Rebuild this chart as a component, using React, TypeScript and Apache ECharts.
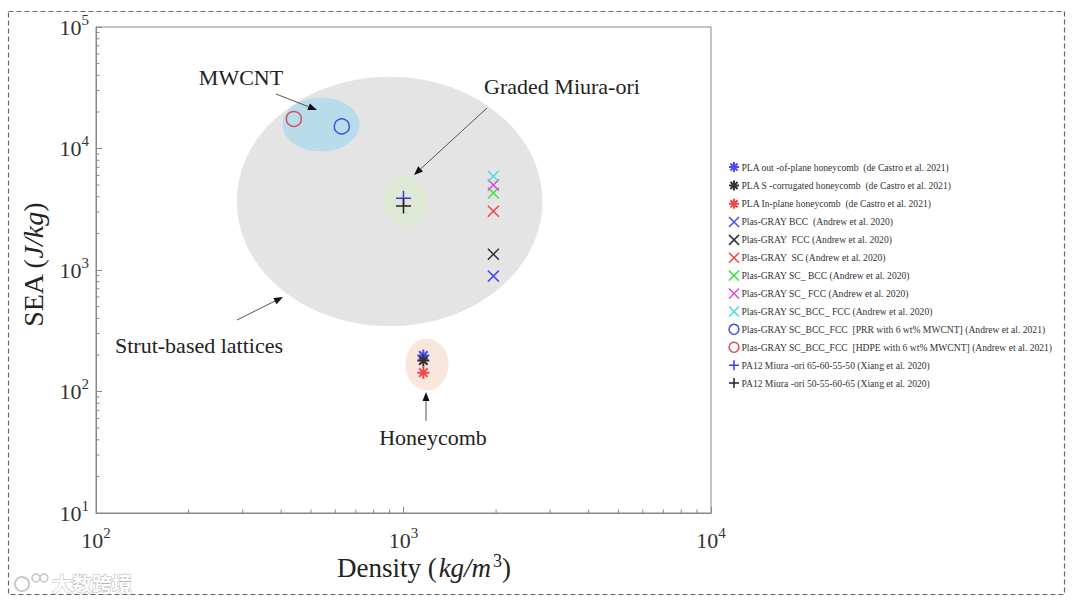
import React, { useEffect, useRef } from 'react';
import * as echarts from 'echarts';

// ---- data ----
const seriesNames = [
  'PLA out -of-plane honeycomb  (de Castro et al. 2021)',
  'PLA S -corrugated honeycomb  (de Castro et al. 2021)',
  'PLA In-plane honeycomb  (de Castro et al. 2021)',
  'Plas-GRAY BCC  (Andrew et al. 2020)',
  'Plas-GRAY  FCC (Andrew et al. 2020)',
  'Plas-GRAY  SC (Andrew et al. 2020)',
  'Plas-GRAY SC_ BCC (Andrew et al. 2020)',
  'Plas-GRAY SC_ FCC (Andrew et al. 2020)',
  'Plas-GRAY SC_BCC_ FCC (Andrew et al. 2020)',
  'Plas-GRAY SC_BCC_FCC  [PRR with 6 wt% MWCNT] (Andrew et al. 2021)',
  'Plas-GRAY SC_BCC_FCC  [HDPE with 6 wt% MWCNT] (Andrew et al. 2021)',
  'PA12 Miura -ori 65-60-55-50 (Xiang et al. 2020)',
  'PA12 Miura -ori 50-55-60-65 (Xiang et al. 2020)',
];
const seriesShapes = ['asterisk', 'asterisk', 'asterisk', 'cross', 'cross', 'cross', 'cross', 'cross', 'cross', 'circle', 'circle', 'plus', 'plus'];
const seriesColors = ['#4b4bf2', '#333333', '#f24545', '#4b4bf2', '#333333', '#f24545', '#45e045', '#e045e0', '#45e0e0', '#3f4ff0', '#d8505a', '#3a3af0', '#222222'];
const densities = [1160, 1160, 1160, 1960, 1960, 1960, 1960, 1960, 1960, 630, 440, 1000, 1000];
const seaValues = [198, 180, 143, 890, 1350, 3050, 4300, 5000, 5900, 15200, 17500, 3900, 3370];

const regionNames = ['Strut-based lattices', 'MWCNT', 'Graded Miura-ori', 'Honeycomb'];
const regionDensity = [[287, 2830], [404, 720], [861, 1188], [1015, 1400]];
const regionSEA = [[345, 39000], [9450, 26300], [2260, 6050], [102, 273]];
const regionColors = ['#e4e4e4', '#b9dcea', '#dfe8d5', '#f9e7dd'];

const xMin = 100, xMax = 10000, yMin = 10, yMax = 100000;

const SYMBOLS: Record<string, string> = {
  asterisk: 'path://M5,0L5,10M0,5L10,5M1.46,1.46L8.54,8.54M8.54,1.46L1.46,8.54',
  cross: 'path://M0,0L10,10M10,0L0,10',
  plus: 'path://M5,0L5,10M0,5L10,5',
  circle: 'circle',
};
const SIZES: Record<string, number> = { asterisk: 12, cross: 11, plus: 15, circle: 15 };

const SERIF = "'Liberation Serif', 'DejaVu Serif', serif";

function minorTicks(lo: number, hi: number): number[] {
  const out: number[] = [];
  for (let d = lo; d < hi; d *= 10) for (let k = 2; k <= 9; k++) out.push(d * k);
  return out;
}

function arrow(x1: number, y1: number, x2: number, y2: number) {
  const a = Math.atan2(y2 - y1, x2 - x1);
  const L = 9, W = 3.5;
  const c = Math.cos(a), s = Math.sin(a);
  const bx = x2 - L * c, by = y2 - L * s;
  return [
    { type: 'line', shape: { x1, y1, x2: bx, y2: by }, style: { stroke: '#555', lineWidth: 1 }, z: 100 },
    { type: 'polygon', shape: { points: [[x2, y2], [bx + W * s, by - W * c], [bx - W * s, by + W * c]] }, style: { fill: '#111' }, z: 100 },
  ];
}

const supLabel = (v: number) => `{b|10}{s|${Math.round(Math.log10(v))}}`;
const supRich = {
  b: { fontSize: 22, fontFamily: SERIF, color: '#333' },
  s: { fontSize: 15, fontFamily: SERIF, color: '#333', padding: [0, 0, 15, 0] },
};

export default function App() {
  const ref = useRef<HTMLDivElement>(null);
  useEffect(() => {
    if (!ref.current) return;
    const chart = echarts.init(ref.current, undefined, { renderer: 'svg' });

    const tickData: number[][] = [];
    minorTicks(xMin, xMax).forEach((v) => tickData.push([v, yMin, 0]));
    minorTicks(yMin, yMax).forEach((v) => tickData.push([xMin, v, 1]));

    const scatterSeries = seriesNames.map((name, i) => {
      const shape = seriesShapes[i];
      const col = seriesColors[i];
      return {
        name,
        type: 'scatter',
        data: [[densities[i], seaValues[i]]],
        symbol: SYMBOLS[shape],
        symbolSize: SIZES[shape],
        itemStyle: {
          color: shape === 'circle' ? 'rgba(0,0,0,0)' : col,
          borderColor: col,
          borderWidth: shape === 'asterisk' ? 2 : 1.5,
          opacity: 1,
        },
        emphasis: { disabled: true },
        z: 5,
      };
    });

    const labelFont = `22px ${SERIF}`;
    const graphic: any[] = [
      { type: 'rect', shape: { x: 8.5, y: 11.5, width: 1056, height: 583 }, style: { fill: 'none', stroke: '#666', lineWidth: 1.2, lineDash: [5, 3] }, silent: true },
      { type: 'text', x: 241, y: 77, style: { text: 'MWCNT', font: labelFont, fill: '#222', textAlign: 'center', textVerticalAlign: 'middle' }, z: 100 },
      { type: 'text', x: 562, y: 86, style: { text: 'Graded Miura-ori', font: labelFont, fill: '#222', textAlign: 'center', textVerticalAlign: 'middle' }, z: 100 },
      { type: 'text', x: 199, y: 345, style: { text: 'Strut-based lattices', font: labelFont, fill: '#222', textAlign: 'center', textVerticalAlign: 'middle' }, z: 100 },
      { type: 'text', x: 433, y: 437, style: { text: 'Honeycomb', font: labelFont, fill: '#222', textAlign: 'center', textVerticalAlign: 'middle' }, z: 100 },
      ...arrow(276, 94, 317, 110),
      ...arrow(487, 108, 414, 175),
      ...arrow(237, 320, 283, 297),
      ...arrow(426, 421, 426, 392),
      {
        type: 'text', x: 424, y: 568,
        style: {
          text: '{n|Density (}{i|kg/m}{s|3}{n|)}',
          textAlign: 'center', textVerticalAlign: 'middle',
          rich: {
            n: { fontSize: 27, fontFamily: SERIF, fill: '#222' },
            i: { fontSize: 27, fontFamily: SERIF, fontStyle: 'italic', fill: '#222', padding: [0, 2, 0, 2] },
            s: { fontSize: 18, fontFamily: SERIF, fill: '#222', padding: [0, 0, 14, 0] },
          },
        },
      },
      {
        type: 'text', x: 33, y: 265, rotation: Math.PI / 2,
        style: {
          text: '{n|SEA (}{i|J/kg}{n|)}',
          textAlign: 'center', textVerticalAlign: 'middle',
          rich: {
            n: { fontSize: 28, fontFamily: SERIF, fill: '#222' },
            i: { fontSize: 28, fontFamily: SERIF, fontStyle: 'italic', fill: '#222' },
          },
        },
      },
      { type: 'text', x: 52, y: 583, style: { text: '大数跨境', font: "bold 20px 'Noto Sans CJK SC'", fill: '#fff', stroke: '#b5b5b5', lineWidth: 1, textVerticalAlign: 'middle' }, z: 100 },
      { type: 'circle', shape: { cx: 22, cy: 584, r: 7 }, style: { fill: 'none', stroke: '#c8c8c8', lineWidth: 2 }, z: 100 },
      { type: 'circle', shape: { cx: 36, cy: 578, r: 4 }, style: { fill: 'none', stroke: '#c8c8c8', lineWidth: 1.5 }, z: 100 },
      { type: 'circle', shape: { cx: 44, cy: 578, r: 4 }, style: { fill: 'none', stroke: '#c8c8c8', lineWidth: 1.5 }, z: 100 },
    ];

    chart.setOption({
      animation: false,
      backgroundColor: '#fff',
      grid: { left: 96, right: 369, top: 27, bottom: 92, show: true, borderColor: '#888', borderWidth: 1, backgroundColor: 'transparent' },
      xAxis: {
        type: 'log', logBase: 10, min: xMin, max: xMax,
        axisLine: { show: true, lineStyle: { color: '#888' } },
        axisTick: { show: true, inside: true, length: 6, lineStyle: { color: '#888' } },
        splitLine: { show: false },
        axisLabel: { formatter: supLabel, rich: supRich, margin: 12 },
      },
      yAxis: {
        type: 'log', logBase: 10, min: yMin, max: yMax,
        axisLine: { show: true, lineStyle: { color: '#888' } },
        axisTick: { show: true, inside: true, length: 6, lineStyle: { color: '#888' } },
        splitLine: { show: false },
        axisLabel: { formatter: supLabel, rich: supRich, margin: 7 },
      },
      legend: {
        orient: 'vertical', left: 723, top: 156,
        itemWidth: 13, itemHeight: 10, itemGap: 6.4,
        selectedMode: false,
        textStyle: { fontSize: 9.6, fontFamily: SERIF, color: '#333', padding: [0, 0, 0, -4] },
        data: seriesNames.map((name, i) => ({
          name,
          itemStyle: {
            color: seriesShapes[i] === 'circle' ? 'rgba(0,0,0,0)' : seriesColors[i],
            borderColor: seriesColors[i],
            borderWidth: seriesShapes[i] === 'asterisk' ? 2 : 1.5,
          },
        })),
      },
      series: [
        {
          name: 'regions', type: 'custom', z: 1, silent: true,
          data: regionNames.map((n, i) => [regionDensity[i][0], regionSEA[i][0], regionDensity[i][1], regionSEA[i][1]]),
          encode: { x: [0, 2], y: [1, 3] },
          renderItem: (params: any, api: any) => {
            const i = params.dataIndex;
            const p1 = api.coord([api.value(0), api.value(1)]);
            const p2 = api.coord([api.value(2), api.value(3)]);
            return {
              type: 'ellipse',
              shape: { cx: (p1[0] + p2[0]) / 2, cy: (p1[1] + p2[1]) / 2, rx: Math.abs(p2[0] - p1[0]) / 2, ry: Math.abs(p2[1] - p1[1]) / 2 },
              style: { fill: regionColors[i] },
            };
          },
        },
        {
          name: 'minorTicks', type: 'custom', z: 3, silent: true,
          data: tickData,
          encode: { x: 0, y: 1 },
          renderItem: (params: any, api: any) => {
            const p = api.coord([api.value(0), api.value(1)]);
            const horiz = api.value(2) === 1;
            return {
              type: 'line',
              shape: horiz ? { x1: p[0], y1: p[1], x2: p[0] + 3.5, y2: p[1] } : { x1: p[0], y1: p[1], x2: p[0], y2: p[1] - 3.5 },
              style: { stroke: '#888', lineWidth: 1 },
            };
          },
        },
        ...scatterSeries,
      ],
      graphic,
    } as any);
    return () => chart.dispose();
  }, []);
  return <div ref={ref} style={{ position: 'fixed', left: 0, top: 0, width: 1080, height: 605 }} />;
}
